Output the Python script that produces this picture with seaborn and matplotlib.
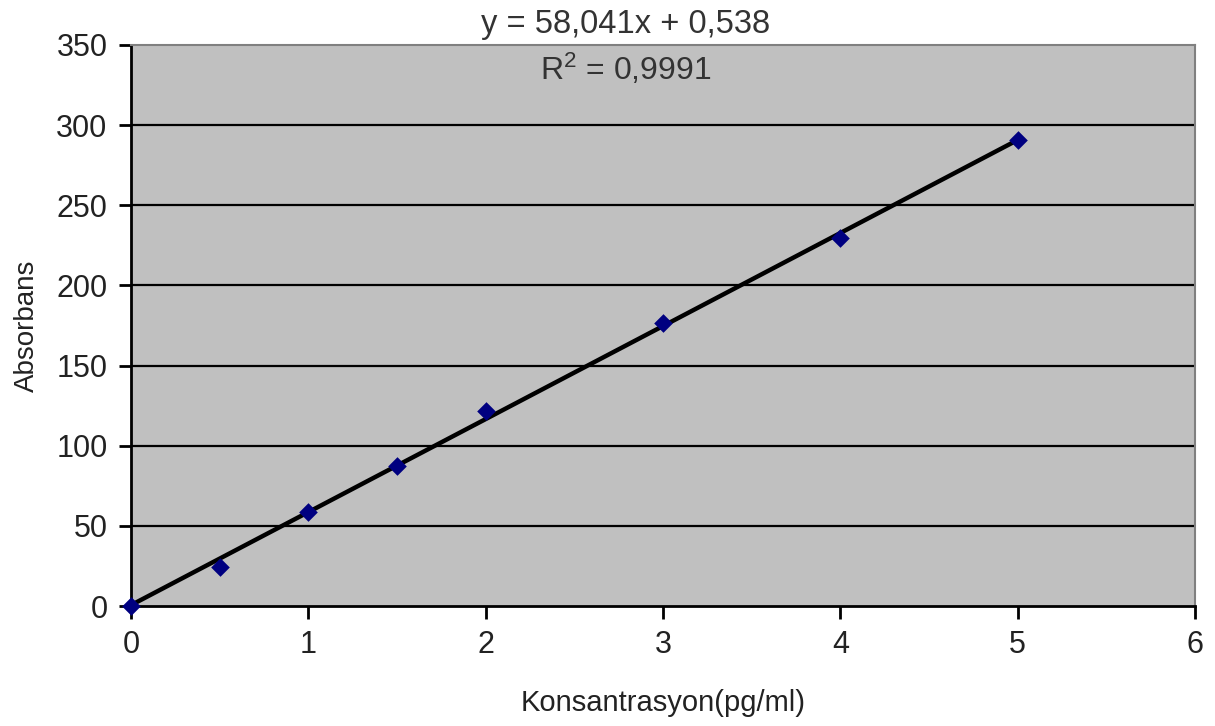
import matplotlib
matplotlib.use("Agg")
import matplotlib.pyplot as plt
import numpy as np
import pandas as pd
import seaborn as sns

# Calibration data
konsantrasyon = [0, 0.5, 1, 1.5, 2, 3, 4, 5]
absorbans = [0, 24.5, 58.5, 87.5, 121.5, 176.5, 229.5, 290.5]

# Linear trendline coefficients
slope = 58.041
intercept = 0.538
r_squared = 0.9991

x_ticks = [0, 1, 2, 3, 4, 5, 6]
y_ticks = [0, 50, 100, 150, 200, 250, 300, 350]

sns.set_theme(style="white")
plt.rcParams["font.family"] = ["Liberation Sans", "DejaVu Sans"]

df = pd.DataFrame({"x": konsantrasyon, "y": absorbans})
trend_x = np.array([min(konsantrasyon), max(konsantrasyon)])
trend = pd.DataFrame({"x": trend_x, "y": slope * trend_x + intercept})

fig = plt.figure(figsize=(12.15, 7.26), dpi=100)
ax = fig.add_axes([131 / 1215, 1 - 606 / 726, (1195 - 131) / 1215, (606 - 45) / 726])
ax.set_facecolor("#c0c0c0")

# horizontal gridlines
for yv in y_ticks[1:-1]:
    ax.axhline(yv, color="black", lw=1.6, zorder=1)

sns.lineplot(data=trend, x="x", y="y", ax=ax, color="black", lw=3.2, zorder=3)
sns.scatterplot(data=df, x="x", y="y", ax=ax, marker="D", s=90, color="#000080",
                edgecolor="#000080", linewidth=0, zorder=4, clip_on=False)

ax.set_xlim(0, 6)
ax.set_ylim(0, 350)
ax.set_xticks(x_ticks)
ax.set_yticks(y_ticks)
ax.tick_params(axis="both", direction="out", length=9, width=2, color="black",
               labelsize=22, labelcolor="#222222", pad=8, bottom=True, left=True)

for side in ["left", "bottom"]:
    ax.spines[side].set_color("black")
    ax.spines[side].set_linewidth(2)
for side in ["top", "right"]:
    ax.spines[side].set_color("#808080")
    ax.spines[side].set_linewidth(1.5)

ax.set_xlabel("Konsantrasyon(pg/ml)", fontsize=21, color="#222222", labelpad=21)
ax.set_ylabel("Absorbans", fontsize=20, color="#222222", labelpad=12)

eq = f"y = {slope:.3f}x + {intercept:.3f}".replace(".", ",")
r2 = f"$\\mathregular{{R^2}}$ = {r_squared:.4f}".replace(".", ",")
ax.text(2.79, 363, eq, fontsize=23.5, color="#333333", ha="center", va="center",
        clip_on=False)
ax.text(2.79, 335, r2, fontsize=23, color="#333333", ha="center", va="center")

fig.savefig("out.png", dpi=100)
